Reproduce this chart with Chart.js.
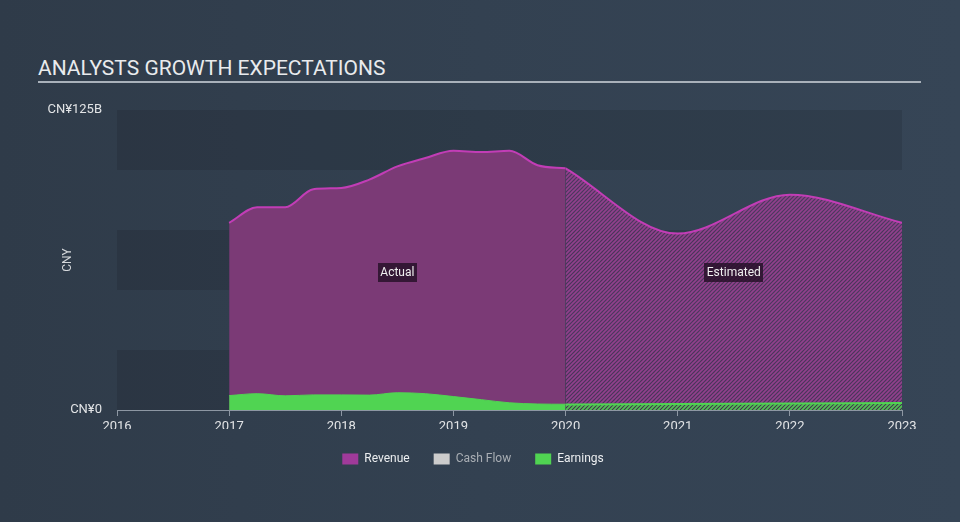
<!DOCTYPE html>
<html><head><meta charset="utf-8">
<script src="https://cdn.jsdelivr.net/npm/chart.js@4/dist/chart.umd.min.js"></script>
<style>
html,body{margin:0;padding:0;width:960px;height:522px;overflow:hidden;background:linear-gradient(90deg,#2f3b49 0%,#334151 50%,#364556 100%);}
#wrap{position:relative;width:960px;height:522px;}
#title{position:absolute;left:38px;top:56px;font-family:Roboto,sans-serif;font-size:21px;color:#e9ebed;line-height:24px;white-space:nowrap;}
#rule{position:absolute;left:38px;top:81px;width:883px;height:2px;background:#a9b1ba;}
canvas{position:absolute;left:0;top:0;}
</style></head>
<body><div id="wrap"><div id="title">ANALYSTS GROWTH EXPECTATIONS</div><div id="rule"></div><canvas id="c" width="960" height="522"></canvas></div>
<script>
// ---- data (CNY billions) ----
const actualYears     = [2017, 2017.25, 2017.5, 2017.75, 2018, 2018.25, 2018.5, 2018.75, 2019, 2019.25, 2019.5, 2019.75, 2020];
const revenueActual   = [78,   84.5,    84.5,   92,      92.5, 96,      101.5,  105,     108,  107.5,   108,    102,     100.7];
const earningsActual  = [6.0,  6.8,     5.9,    6.3,     6.3,  6.2,     7.2,    6.8,     5.6,  4.3,     3.0,    2.5,     2.4];
const estimateYears   = [2020, 2021, 2022, 2023];
const revenueEstimate = [100.7, 73.5, 89.7, 78];
const earningsEstimate= [2.3,  2.5,  2.7,  2.9];
const xTickYears      = [2016, 2017, 2018, 2019, 2020, 2021, 2022, 2023];
const yTickValues     = [0, 125];
const yTickLabels     = ['CN¥0', 'CN¥125B'];
const legendNames     = ['Revenue', 'Cash Flow', 'Earnings'];
const periodLabels    = ['Actual', 'Estimated'];
const periodCenters   = [2018.5, 2021.5];

const C = {
  revLine: '#c23db6', revFill: '#7b3a76', revLegend: '#a03a9a',
  earn: '#50d452', cash: '#cccccc', band: 'rgba(0,0,0,0.10)'
};

// diagonal "/" hatch pattern
function hatch(lineColor, baseColor) {
  const s = 4, cv = document.createElement('canvas');
  cv.width = s; cv.height = s;
  const g = cv.getContext('2d');
  if (baseColor) { g.fillStyle = baseColor; g.fillRect(0, 0, s, s); }
  g.strokeStyle = lineColor; g.lineWidth = 1.6;
  g.beginPath();
  g.moveTo(-1, 1); g.lineTo(1, -1);
  g.moveTo(-1, s + 1); g.lineTo(s + 1, -1);
  g.moveTo(s - 1, s + 1); g.lineTo(s + 1, s - 1);
  g.stroke();
  return g.createPattern(cv, 'repeat');
}
const revHatch = hatch('#92408d', 'rgba(100,48,105,0.5)');
const earnHatch = hatch('#4cc84f', 'rgba(40,60,50,0.3)');

const pts = (xs, ys) => xs.map((x, i) => ({x, y: ys[i]}));

const bandsPlugin = {
  id: 'bands',
  beforeDatasetsDraw(chart) {
    const {ctx, chartArea: a, scales: {y}} = chart;
    ctx.save();
    ctx.fillStyle = C.band;
    [[0, 25], [50, 75], [100, 125]].forEach(([lo, hi]) => {
      const t = y.getPixelForValue(hi), b = y.getPixelForValue(lo);
      ctx.fillRect(a.left, t, a.right - a.left, b - t);
    });
    ctx.restore();
  }
};
const periodPlugin = {
  id: 'periods',
  afterDatasetsDraw(chart) {
    const {ctx, scales: {x, y}} = chart;
    ctx.save();
    ctx.font = '12px Roboto';
    ctx.textAlign = 'center'; ctx.textBaseline = 'middle';
    periodLabels.forEach((t, i) => {
      const cx = x.getPixelForValue(periodCenters[i]), cy = y.getPixelForValue(57.5);
      const w = ctx.measureText(t).width + 5, h = 19;
      ctx.fillStyle = 'rgba(40,18,42,0.85)';
      ctx.fillRect(Math.round(cx - w / 2), Math.round(cy - h / 2), Math.round(w), h);
      ctx.fillStyle = '#f0f0f0';
      ctx.fillText(t, cx, cy + 0.5);
    });
    ctx.restore();
  }
};

Chart.defaults.font.family = 'Roboto';
new Chart(document.getElementById('c'), {
  type: 'line',
  data: {
    datasets: [
      { data: pts(actualYears, earningsActual), borderColor: C.earn, backgroundColor: C.earn, borderWidth: 1, fill: 'origin', cubicInterpolationMode: 'monotone', pointRadius: 0 },
      { data: pts(estimateYears, earningsEstimate), borderColor: C.earn, backgroundColor: earnHatch, borderWidth: 2, fill: 'origin', cubicInterpolationMode: 'monotone', pointRadius: 0 },
      { data: pts(actualYears, revenueActual), borderColor: C.revLine, backgroundColor: C.revFill, borderWidth: 2, fill: 'origin', cubicInterpolationMode: 'monotone', pointRadius: 0 },
      { data: pts(estimateYears, revenueEstimate), borderColor: C.revLine, backgroundColor: revHatch, borderWidth: 2, fill: 'origin', cubicInterpolationMode: 'monotone', pointRadius: 0 }
    ]
  },
  options: {
    responsive: false, animation: false,
    layout: { padding: { left: 44, right: 58, top: 110, bottom: 47 } },
    scales: {
      x: {
        type: 'linear', min: 2016, max: 2023,
        afterBuildTicks: s => { s.ticks = xTickYears.map(v => ({value: v})); },
        afterFit: s => { s.height = 19; s.paddingLeft = 0; s.paddingRight = 0; },
        ticks: { color: '#e2e4e6', font: { size: 13 }, padding: 3, maxRotation: 0, callback: v => String(v) },
        grid: { display: true, drawOnChartArea: false, drawTicks: true, tickLength: 6, color: '#8d97a3' },
        border: { display: true, color: '#8d97a3', width: 1 }
      },
      y: {
        min: 0, max: 125,
        afterBuildTicks: s => { s.ticks = yTickValues.map(v => ({value: v})); },
        afterFit: s => { s.width = 73; s.paddingTop = 0; s.paddingBottom = 0; },
        ticks: { color: '#e2e4e6', font: { size: 13 }, padding: 15, callback: v => yTickLabels[yTickValues.indexOf(v)] },
        grid: { display: false, drawTicks: false },
        border: { display: false },
        title: { display: true, text: 'CNY', color: '#d5d8db', font: { size: 12 }, padding: { top: 17, bottom: 0 } }
      }
    },
    plugins: {
      tooltip: { enabled: false },
      legend: {
        position: 'bottom', align: 'center', onClick: null,
        labels: {
          boxWidth: 16, boxHeight: 11, padding: 24, font: { size: 12 },
          generateLabels: () => legendNames.map((n, i) => ({
            text: n,
            fillStyle: [C.revLegend, C.cash, C.earn][i],
            strokeStyle: [C.revLegend, C.cash, C.earn][i],
            lineWidth: 0,
            fontColor: i === 1 ? '#a9aeb4' : '#eceef0',
            hidden: false, datasetIndex: i
          }))
        }
      }
    }
  },
  plugins: [bandsPlugin, periodPlugin]
});
</script>
</body></html>
